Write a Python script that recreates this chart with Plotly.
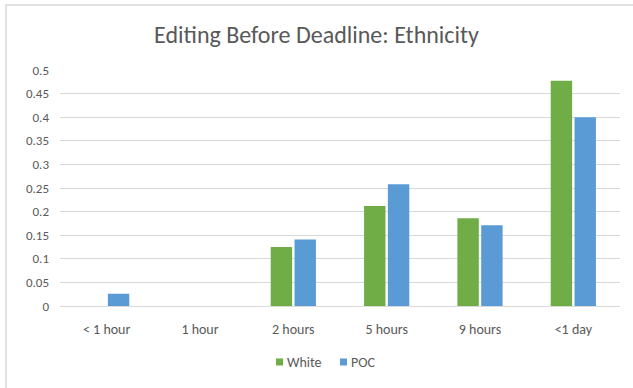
import plotly.graph_objects as go

categories = ["< 1 hour", "1 hour", "2 hours", "5 hours", "9 hours", "<1 day"]
white = [0, 0, 0.125, 0.212, 0.186, 0.477]
poc = [0.026, 0, 0.141, 0.258, 0.171, 0.400]
y_ticks = [0, 0.05, 0.1, 0.15, 0.2, 0.25, 0.3, 0.35, 0.4, 0.45, 0.5]
y_tick_text = ["0", "0.05", "0.1", "0.15", "0.2", "0.25", "0.3", "0.35", "0.4", "0.45", "0.5"]
series_names = ["White", "POC"]
series_colors = ["#70AD47", "#5B9BD5"]

font_family = "Carlito, Calibri, Lato, 'Open Sans', sans-serif"
text_color = "#595959"

# plot area in pixels
L, R, T, B, W, H = 60, 13, 70, 82, 633, 388
pw, ph = W - L - R, H - T - B


def px_x(px):
    return (px - L) / pw


def px_y(py):
    return (H - B - py) / ph


fig = go.Figure()
for name, vals, color in zip(series_names, [white, poc], series_colors):
    fig.add_trace(go.Bar(name=name, x=categories, y=vals, marker_color=color,
                         marker_line_width=0, showlegend=False))

# compact legend below the plot: small square key followed by its label
shapes = [dict(type="rect", xref="paper", yref="paper",
               x0=px_x(6), x1=px_x(640), y0=px_y(400), y1=px_y(5),
               line=dict(color="#d9d9d9", width=1.5), fillcolor="rgba(0,0,0,0)")]
annotations = []
legend_key_left = [276, 340]
legend_mid_y = 362
for name, color, kx in zip(series_names, series_colors, legend_key_left):
    shapes.append(dict(type="rect", xref="paper", yref="paper",
                       x0=px_x(kx), x1=px_x(kx + 7),
                       y0=px_y(legend_mid_y + 3.5), y1=px_y(legend_mid_y - 3.5),
                       line=dict(width=0), fillcolor=color))
    annotations.append(dict(text=name, xref="paper", yref="paper",
                            x=px_x(kx + 9), y=px_y(legend_mid_y),
                            xanchor="left", yanchor="middle", showarrow=False,
                            font=dict(size=14, color=text_color)))

fig.update_layout(
    width=W, height=H,
    margin=dict(l=L, r=R, t=T, b=B),
    paper_bgcolor="white", plot_bgcolor="white",
    barmode="group", bargap=0.49, bargroupgap=0.1,
    font=dict(family=font_family, color=text_color, size=13),
    title=dict(text="Editing Before Deadline: Ethnicity", x=0.5, xanchor="center",
               y=0.91, yanchor="middle",
               font=dict(size=24, color=text_color, family=font_family)),
    showlegend=False,
    shapes=shapes,
    annotations=annotations,
)
fig.update_xaxes(showgrid=False, showline=True, linecolor="#d9d9d9", linewidth=1,
                 ticks="", ticklabelstandoff=10,
                 tickfont=dict(size=14, color=text_color))
fig.update_yaxes(range=[0, 0.5], tickvals=y_ticks, ticktext=y_tick_text,
                 showgrid=True, gridcolor="#d9d9d9", gridwidth=1,
                 zeroline=False, showline=False, ticks="",
                 ticklabelstandoff=10, tickfont=dict(size=13, color=text_color))

fig.write_html("out.html")
